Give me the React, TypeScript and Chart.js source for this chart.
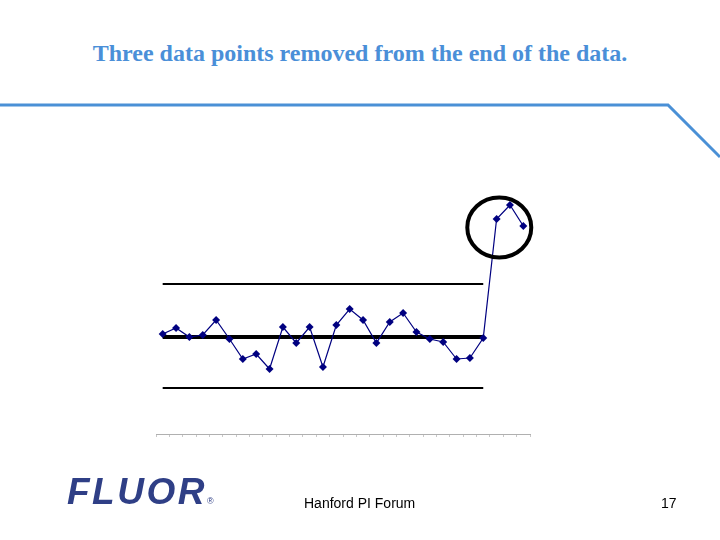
import React, { useEffect, useRef } from "react";
import { Chart, registerables } from "chart.js";

Chart.register(...registerables);

const categories: string[] = Array.from({ length: 28 }, (_, i) => String(i + 1));
const measurements: number[] = [
  10.0, 10.6, 9.7, 9.9, 11.4, 9.5, 7.5, 8.0, 6.5, 10.7,
  9.1, 10.7, 6.7, 10.9, 12.5, 11.4, 9.1, 11.2, 12.1, 10.2,
  9.5, 9.2, 7.5, 7.6, 9.6, 21.5, 22.9, 20.8,
];
const centerValue = 9.7;
const upperLimit = 15.0;
const lowerLimit = 4.6;
const limitPoints = 25; // limits drawn across the first 25 points
const circledCenterIndex = 25.2; // circle around the last three points
const circledCenterValue = 20.65;

const centerLine = categories.map((_, i) => (i < limitPoints ? centerValue : null));
const uclLine = categories.map((_, i) => (i < limitPoints ? upperLimit : null));
const lclLine = categories.map((_, i) => (i < limitPoints ? lowerLimit : null));

const circlePlugin = {
  id: "circleAnnot",
  afterDatasetsDraw(chart: any) {
    const { ctx, scales } = chart;
    const x = scales.x.getPixelForValue(circledCenterIndex);
    const y = scales.y.getPixelForValue(circledCenterValue);
    ctx.save();
    ctx.beginPath();
    ctx.ellipse(x, y, 32, 30, 0, 0, Math.PI * 2);
    ctx.lineWidth = 4;
    ctx.strokeStyle = "#000000";
    ctx.stroke();
    ctx.restore();
  },
};

export default function App() {
  const ref = useRef<HTMLCanvasElement | null>(null);
  useEffect(() => {
    if (!ref.current) return;
    const chart = new Chart(ref.current, {
      type: "line",
      data: {
        labels: categories,
        datasets: [
          {
            data: measurements,
            borderColor: "#000080",
            backgroundColor: "#000080",
            borderWidth: 1.2,
            pointStyle: "rectRot",
            pointRadius: 4,
            pointBorderWidth: 0,
            tension: 0,
            order: 0,
          },
          {
            data: centerLine,
            borderColor: "#000000",
            borderWidth: 4,
            pointRadius: 0,
            order: 1,
          },
          {
            data: uclLine,
            borderColor: "#000000",
            borderWidth: 2,
            pointRadius: 0,
            order: 1,
          },
          {
            data: lclLine,
            borderColor: "#000000",
            borderWidth: 2,
            pointRadius: 0,
            order: 1,
          },
        ],
      },
      options: {
        animation: false,
        responsive: false,
        maintainAspectRatio: false,
        layout: { padding: { left: 156, right: 190, top: 190, bottom: 103 } },
        plugins: { legend: { display: false }, tooltip: { enabled: false }, title: { display: false } },
        scales: {
          x: {
            offset: true,
            afterFit: (s: any) => { s.height = 3; },
            border: { display: true, color: "#b0b0b0", width: 1 },
            grid: { display: true, drawOnChartArea: false, drawTicks: true, tickLength: 3, color: "#c8c8c8", offset: true },
            ticks: { display: false },
          },
          y: { display: false, min: 0, max: 24.4 },
        },
      },
      plugins: [circlePlugin],
    });
    return () => chart.destroy();
  }, []);

  return (
    <div style={{ position: "absolute", left: 0, top: 0, width: 720, height: 540, background: "#fff", overflow: "hidden" }}>
      <div style={{ position: "absolute", left: 0, top: 38, width: 720, textAlign: "center", fontFamily: "'Liberation Serif', 'Times New Roman', serif", fontWeight: "bold", fontSize: 24, color: "#4a8fd8", lineHeight: "30px" }}>
        Three data points removed from the end of the data.
      </div>
      <svg style={{ position: "absolute", left: 0, top: 0 }} width={720} height={540}>
        <polyline points="0,105 668,105 720,157" fill="none" stroke="#4a90d6" strokeWidth={3} />
      </svg>
      <canvas ref={ref} width={720} height={540} style={{ position: "absolute", left: 0, top: 0 }} />
      <div style={{ position: "absolute", left: 67, top: 471, fontFamily: "'Liberation Sans', Arial, sans-serif", fontWeight: "bold", fontStyle: "italic", fontSize: 37, letterSpacing: 2.5, color: "#2f3f86", lineHeight: "42px" }}>
        FLUOR<span style={{ fontSize: 9, fontStyle: "normal", fontWeight: "normal", letterSpacing: 0 }}>®</span>
      </div>
      <div style={{ position: "absolute", left: 304, top: 495, fontFamily: "'Liberation Sans', Arial, sans-serif", fontSize: 14, color: "#000", lineHeight: "16px" }}>
        Hanford PI Forum
      </div>
      <div style={{ position: "absolute", left: 661, top: 495, fontFamily: "'Liberation Sans', Arial, sans-serif", fontSize: 14, color: "#000", lineHeight: "16px" }}>
        17
      </div>
    </div>
  );
}
